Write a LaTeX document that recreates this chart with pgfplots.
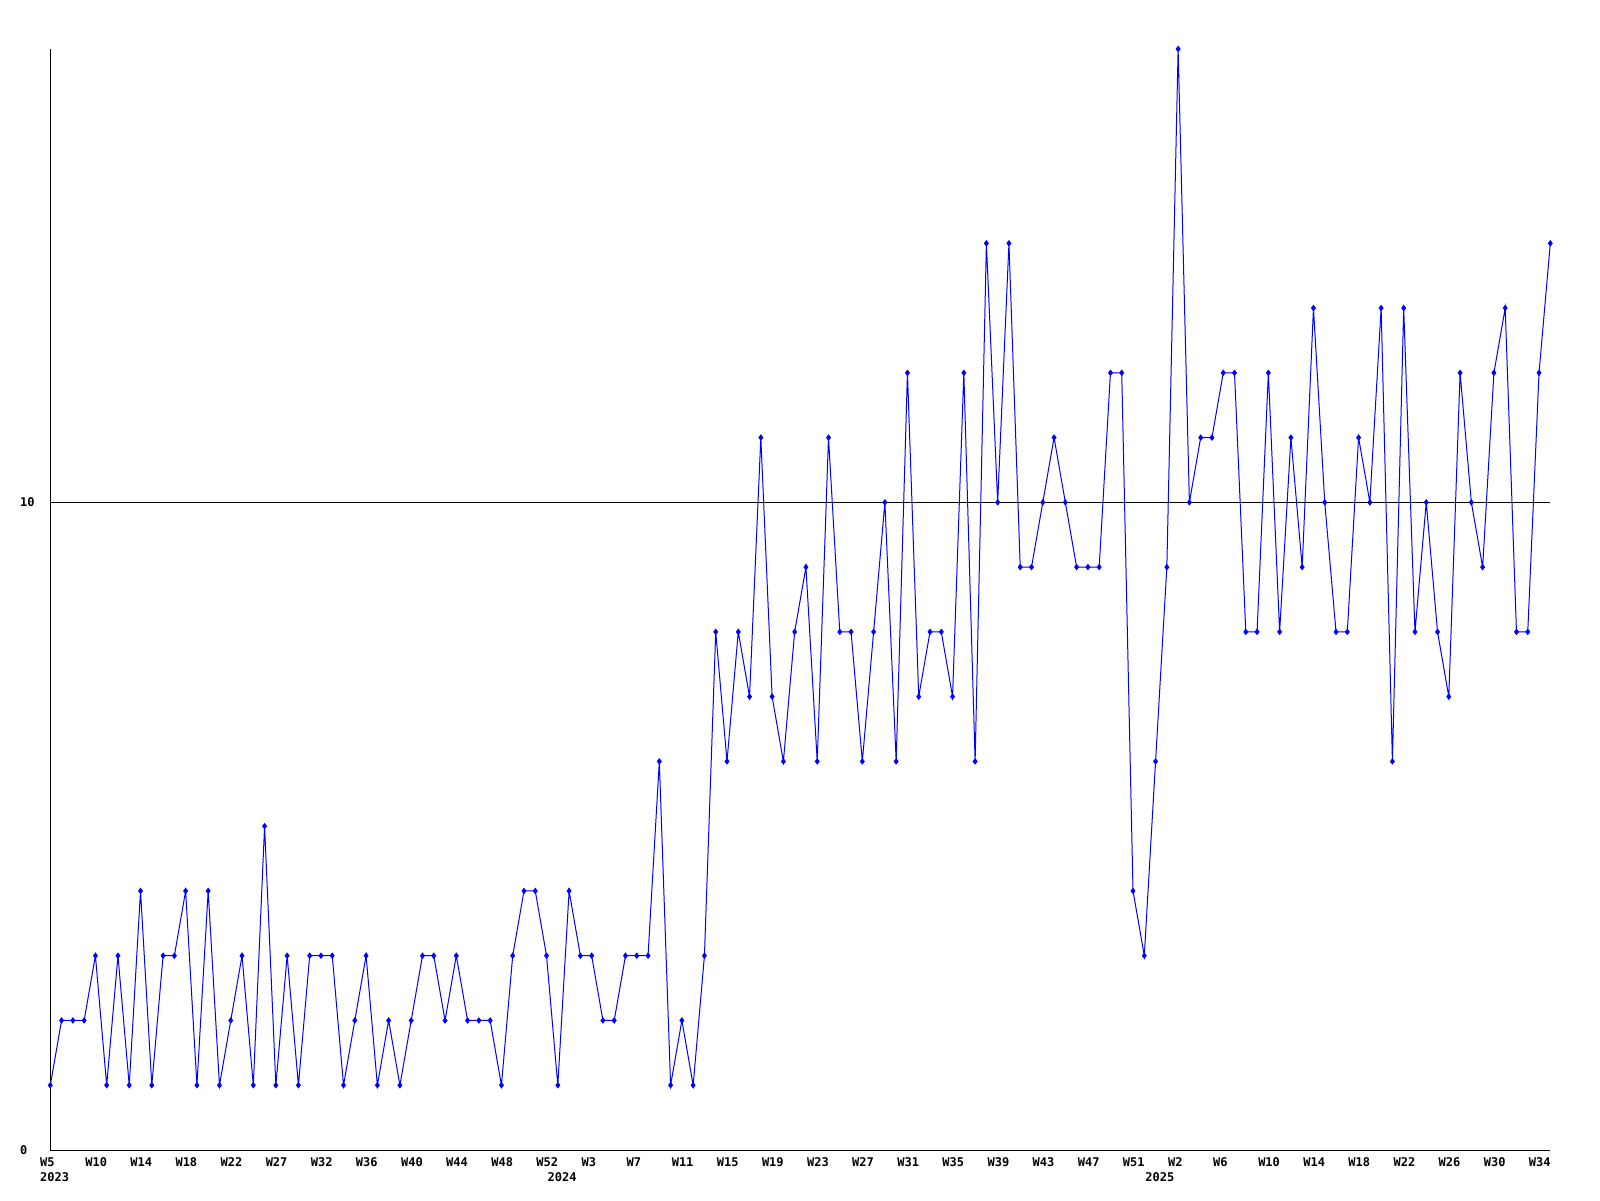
\documentclass[border=0pt]{standalone}
\usepackage{fontspec}
\usepackage{pgfplots}
\usepackage{pgfplotstable}
\pgfplotsset{compat=1.18}
\newfontfamily\gdfont{DejaVu Sans Mono}
\definecolor{gdblue}{RGB}{0,0,255}
\pgfplotstableread{
x y
0 1
1 2
2 2
3 2
4 3
5 1
6 3
7 1
8 4
9 1
10 3
11 3
12 4
13 1
14 4
15 1
16 2
17 3
18 1
19 5
20 1
21 3
22 1
23 3
24 3
25 3
26 1
27 2
28 3
29 1
30 2
31 1
32 2
33 3
34 3
35 2
36 3
37 2
38 2
39 2
40 1
41 3
42 4
43 4
44 3
45 1
46 4
47 3
48 3
49 2
50 2
51 3
52 3
53 3
54 6
55 1
56 2
57 1
58 3
59 8
60 6
61 8
62 7
63 11
64 7
65 6
66 8
67 9
68 6
69 11
70 8
71 8
72 6
73 8
74 10
75 6
76 12
77 7
78 8
79 8
80 7
81 12
82 6
83 14
84 10
85 14
86 9
87 9
88 10
89 11
90 10
91 9
92 9
93 9
94 12
95 12
96 4
97 3
98 6
99 9
100 17
101 10
102 11
103 11
104 12
105 12
106 8
107 8
108 12
109 8
110 11
111 9
112 13
113 10
114 8
115 8
116 11
117 10
118 13
119 6
120 13
121 8
122 10
123 8
124 7
125 12
126 10
127 9
128 12
129 13
130 8
131 8
132 12
133 14
}\datatable
\newcommand{\gdf}{\gdfont\bfseries\fontsize{6}{7}\selectfont}
\begin{document}
\begin{tikzpicture}
\path[use as bounding box] (0,0) rectangle (800pt,600pt);
\begin{axis}[
  at={(25.15pt,25pt)}, anchor=south west,
  scale only axis, width=750pt, height=550.5pt,
  xmin=0, xmax=133, ymin=0, ymax=17,
  axis x line*=bottom, axis y line*=left,
  axis line style={black, line width=0.5pt, -},
  xtick={0,4,...,132},
  xticklabels={W5,W10,W14,W18,W22,W27,W32,W36,W40,W44,W48,W52,W3,W7,W11,W15,W19,W23,W27,W31,W35,W39,W43,W47,W51,W2,W6,W10,W14,W18,W22,W26,W30,W34},
  ytick={0,10},
  ymajorgrids, grid style={black, line width=0.5pt},
  major tick length=0pt,
  tick style={draw=none},
  ticklabel style={font=\gdf, inner sep=0pt},
  xticklabel style={anchor=north west, xshift=-5.25pt, yshift=-3.5pt},
  yticklabel style={anchor=west, xshift=-15.25pt},
  /pgf/number format/assume math mode=true,
  axis on top,
  clip=false,
]
\addplot[gdblue, line width=0.5pt, mark=diamond*, mark size=1.25pt, mark options={solid, fill=gdblue, draw=gdblue}] table[x=x, y=y] {\datatable};
\node[font=\gdf, inner sep=0pt, anchor=north west, xshift=-5.25pt, yshift=-11pt] at (axis cs:0,0) {2023};
\node[font=\gdf, inner sep=0pt, anchor=north west, xshift=-5.25pt, yshift=-11pt] at (axis cs:45,0) {2024};
\node[font=\gdf, inner sep=0pt, anchor=north west, xshift=-5.25pt, yshift=-11pt] at (axis cs:98,0) {2025};
\end{axis}
\end{tikzpicture}
\end{document}
